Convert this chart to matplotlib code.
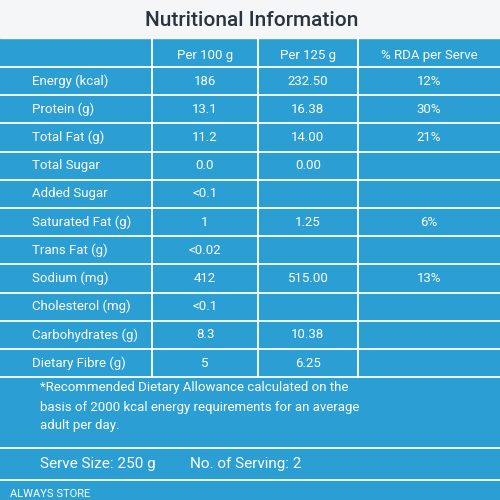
import matplotlib
matplotlib.use("Agg")
import matplotlib.pyplot as plt

title = "Nutritional Information"
headers = ["Per 100 g", "Per 125 g", "% RDA per Serve"]
nutrients = ["Energy (kcal)", "Protein (g)", "Total Fat (g)", "Total Sugar", "Added Sugar",
             "Saturated Fat (g)", "Trans Fat (g)", "Sodium (mg)", "Cholesterol (mg)",
             "Carbohydrates (g)", "Dietary Fibre (g)"]
per100 = ["186", "13.1", "11.2", "0.0", "<0.1", "1", "<0.02", "412", "<0.1", "8.3", "5"]
per125 = ["232.50", "16.38", "14.00", "0.00", "", "1.25", "", "515.00", "", "10.38", "6.25"]
rda = ["12%", "30%", "21%", "", "", "6%", "", "13%", "", "", ""]
footnote = ["*Recommended Dietary Allowance calculated on the",
            "basis of 2000 kcal energy requirements for an average",
            "adult per day."]
serve = "Serve Size: 250 g"
servings = "No. of Serving: 2"

blue = "#2b9fd4"
fig = plt.figure(figsize=(5, 5), dpi=100)
ax = fig.add_axes([0, 0, 1, 1])
ax.set_xlim(0, 500); ax.set_ylim(500, 0); ax.axis("off")
ax.add_patch(plt.Rectangle((0, 0), 500, 500, color=blue))
ax.add_patch(plt.Rectangle((0, 0), 500, 38, color="#f4f6f8"))
ax.text(252, 20, title, ha="center", va="center", fontsize=15, color="#2a3440",
        fontfamily="Roboto", fontweight="medium")

cols = [0, 152, 258, 358, 500]
top, hdr_h, row_h = 38, 29, 28.2
rows_y = [top + hdr_h + i * row_h for i in range(len(nutrients) + 1)]
lw = 1.3
for x in cols[1:4]:
    ax.plot([x, x], [top, rows_y[-1]], color="white", lw=lw)
ax.plot([0, 500], [top + hdr_h, top + hdr_h], color="white", lw=lw)
for y in rows_y[1:]:
    ax.plot([0, 500], [y, y], color="white", lw=lw)
tk = dict(color="white", fontfamily="Roboto", fontsize=9.5, va="center")
for j, h in enumerate(headers):
    ax.text((cols[j + 1] + cols[j + 2]) / 2, top + hdr_h / 2 + 3, h, ha="center", **tk)
for i, n in enumerate(nutrients):
    yc = (rows_y[i] + rows_y[i + 1]) / 2
    ax.text(32, yc, n, ha="left", **tk)
    for j, v in enumerate([per100[i], per125[i], rda[i]]):
        ax.text((cols[j + 1] + cols[j + 2]) / 2, yc, v, ha="center", **tk)
for k, line in enumerate(footnote):
    ax.text(40, 388 + k * 19, line, ha="left", **tk)
ax.plot([0, 500], [448, 448], color="white", lw=lw)
ax.text(40, 464, serve, ha="left", color="white", fontfamily="Roboto", fontsize=11, va="center")
ax.text(190, 464, servings, ha="left", color="white", fontfamily="Roboto", fontsize=11, va="center")
ax.plot([0, 500], [480, 480], color="white", lw=lw)
ax.text(10, 494, "ALWAYS STORE", ha="left", color="white", fontfamily="Roboto", fontsize=8, va="center")
fig.savefig("out.png", dpi=100)
